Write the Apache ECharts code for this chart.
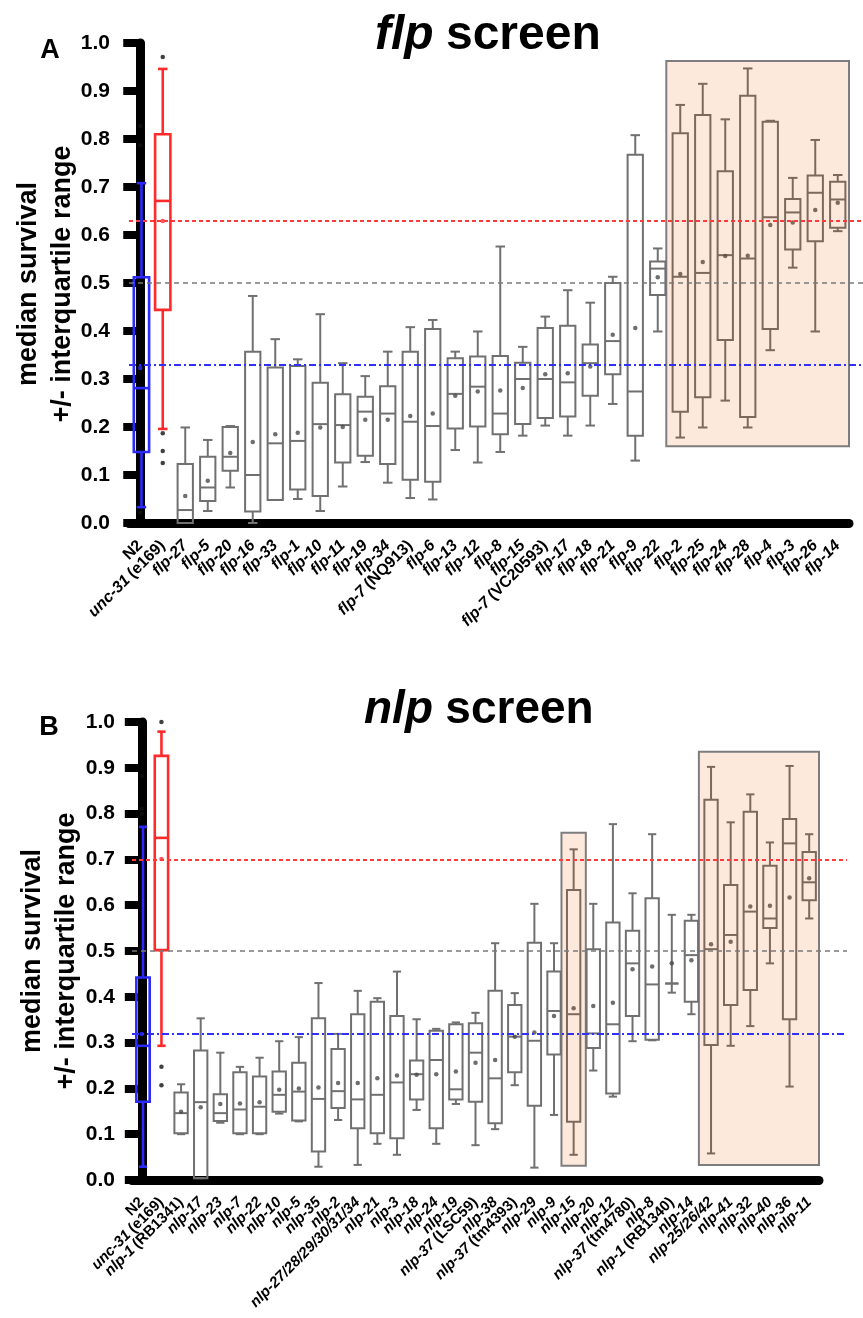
<!DOCTYPE html>
<html><head><meta charset="utf-8">
<script src="https://cdn.jsdelivr.net/npm/echarts@6/dist/echarts.min.js"></script>
<style>html,body{margin:0;padding:0;background:#fff}#c{width:863px;height:1318px}</style>
</head><body><div id="c"></div>
<script>
// ---------------- Panel A: flp screen ----------------
const flpCategories = ['N2','unc-31 (e169)','flp-27','flp-5','flp-20','flp-16','flp-33','flp-1','flp-10','flp-11','flp-19','flp-34','flp-7 (NQ913)','flp-6','flp-13','flp-12','flp-8','flp-15','flp-7 (VC20593)','flp-17','flp-18','flp-21','flp-9','flp-22','flp-2','flp-25','flp-24','flp-28','flp-4','flp-3','flp-26','flp-14'];
const flpMin    = [0.033,0.196,0.000,0.025,0.074,0.000,0.048,0.050,0.025,0.076,0.127,0.084,0.052,0.049,0.152,0.126,0.148,0.182,0.203,0.182,0.203,0.248,0.130,0.399,0.178,0.199,0.255,0.199,0.360,0.532,0.399,0.608];
const flpQ1     = [0.148,0.444,0.000,0.046,0.109,0.024,0.048,0.070,0.056,0.126,0.140,0.123,0.090,0.086,0.197,0.201,0.185,0.206,0.219,0.222,0.265,0.310,0.182,0.475,0.232,0.262,0.381,0.221,0.404,0.570,0.587,0.615];
const flpMedian = [0.281,0.671,0.027,0.074,0.138,0.100,0.166,0.171,0.206,0.204,0.232,0.228,0.211,0.202,0.269,0.284,0.228,0.300,0.300,0.293,0.333,0.379,0.274,0.530,0.513,0.521,0.558,0.551,0.637,0.647,0.688,0.674];
const flpQ3     = [0.512,0.810,0.123,0.138,0.200,0.357,0.324,0.327,0.292,0.268,0.263,0.285,0.357,0.404,0.343,0.347,0.348,0.334,0.406,0.411,0.372,0.500,0.767,0.545,0.812,0.850,0.733,0.890,0.836,0.675,0.724,0.711];
const flpMax    = [0.708,0.946,0.199,0.173,0.202,0.473,0.383,0.341,0.435,0.333,0.306,0.357,0.408,0.423,0.357,0.399,0.576,0.367,0.430,0.485,0.459,0.513,0.808,0.572,0.871,0.915,0.841,0.947,0.838,0.719,0.798,0.725];
const flpMean   = [0.323,0.629,0.056,0.088,0.146,0.169,0.185,0.188,0.199,0.200,0.215,0.215,0.223,0.228,0.265,0.274,0.276,0.281,0.310,0.312,0.326,0.392,0.406,0.512,0.519,0.544,0.556,0.557,0.621,0.626,0.652,0.667];
const flpOutlierCats   = ['N2','N2','N2','unc-31 (e169)','unc-31 (e169)','unc-31 (e169)','unc-31 (e169)'];
const flpOutlierValues = [0.827,0.787,0.022,0.971,0.187,0.150,0.125];
const flpRefLines = [0.631, 0.500, 0.326];   // red (unc-31), grey (50%), blue (N2)
const flpHighlightFrom = ['flp-2'];
const flpHighlightTo   = ['flp-14'];
const flpHighlightLow  = [0.16];
const flpHighlightHigh = [0.9625];

// ---------------- Panel B: nlp screen ----------------
const nlpCategories = ['N2','unc-31 (e169)','nlp-1 (RB1341)','nlp-17','nlp-23','nlp-7','nlp-22','nlp-10','nlp-5','nlp-35','nlp-2','nlp-27/28/29/30/31/34','nlp-21','nlp-3','nlp-18','nlp-24','nlp-19','nlp-37 (LSC59)','nlp-38','nlp-37 (tm4393)','nlp-29','nlp-9','nlp-15','nlp-20','nlp-12','nlp-37 (tm4780)','nlp-8','nlp-1 (RB1340)','nlp-14','nlp-25/26/42','nlp-41','nlp-32','nlp-40','nlp-36','nlp-11'];
const nlpMin    = [0.029,0.293,0.100,0.004,0.125,0.100,0.100,0.145,0.128,0.029,0.131,0.033,0.079,0.055,0.153,0.079,0.166,0.076,0.111,0.207,0.027,0.142,0.055,0.239,0.182,0.303,0.305,0.409,0.362,0.058,0.293,0.336,0.473,0.204,0.571];
const nlpQ1     = [0.171,0.502,0.102,0.004,0.129,0.102,0.102,0.149,0.130,0.062,0.157,0.113,0.102,0.091,0.176,0.113,0.176,0.171,0.124,0.235,0.162,0.274,0.127,0.288,0.189,0.358,0.306,0.429,0.389,0.295,0.382,0.415,0.550,0.351,0.611];
const nlpMedian = [0.293,0.747,0.146,0.170,0.146,0.154,0.160,0.186,0.193,0.177,0.194,0.176,0.186,0.213,0.231,0.262,0.198,0.278,0.222,0.313,0.304,0.369,0.362,0.320,0.340,0.473,0.427,0.429,0.491,0.504,0.535,0.586,0.571,0.735,0.650];
const nlpQ3     = [0.442,0.926,0.191,0.283,0.187,0.235,0.226,0.237,0.256,0.353,0.286,0.362,0.389,0.358,0.261,0.326,0.340,0.342,0.413,0.382,0.518,0.455,0.633,0.504,0.562,0.544,0.615,0.429,0.566,0.830,0.644,0.804,0.686,0.788,0.716];
const nlpMax    = [0.771,0.979,0.209,0.353,0.278,0.247,0.267,0.303,0.312,0.430,0.319,0.413,0.397,0.455,0.351,0.330,0.344,0.365,0.517,0.408,0.603,0.517,0.722,0.603,0.777,0.626,0.755,0.579,0.579,0.902,0.781,0.842,0.737,0.904,0.755];
const nlpMean   = [0.319,0.701,0.149,0.159,0.166,0.167,0.170,0.197,0.200,0.202,0.212,0.212,0.222,0.228,0.230,0.231,0.237,0.256,0.262,0.313,0.322,0.358,0.375,0.380,0.387,0.460,0.466,0.473,0.480,0.515,0.520,0.597,0.599,0.617,0.659];
const nlpOutlierCats   = ['N2','N2','N2','unc-31 (e169)','unc-31 (e169)','unc-31 (e169)'];
const nlpOutlierValues = [0.882,0.810,0.799,1.000,0.247,0.207];
const nlpRefLines = [0.700, 0.497, 0.320];
const nlpHighlightFrom = ['nlp-15','nlp-25/26/42'];
const nlpHighlightTo   = ['nlp-15','nlp-11'];
const nlpHighlightLow  = [0.031, 0.033];
const nlpHighlightHigh = [0.758, 0.935];

// ---------------- styling ----------------
const FONT = 'Liberation Sans, Arial, sans-serif';
const BLUE = '#2a2aff', RED = '#ff2a2a', GREY = '#707070', BROWN = '#7e685b';
const REF_STYLES = [
  {color: '#ff3a3a', type: [4, 3], width: 2},
  {color: '#7a7a7a', type: [5, 4], width: 1.6},
  {color: '#3030ff', type: [7, 3, 2, 3], width: 2}
];

function highlightIndex(cats, from, to) {
  const set = new Set();
  from.forEach((f, k) => {
    const a = cats.indexOf(f), b = cats.indexOf(to[k]);
    for (let i = a; i <= b; i++) set.add(i);
  });
  return set;
}
function colorOf(i, hl) { return i === 0 ? BLUE : i === 1 ? RED : (hl.has(i) ? BROWN : GREY); }

function boxRenderer(hl) {
  return function (params, api) {
    const i = api.value(0);
    const x = api.coord([i, 0])[0] + (i === 0 ? 1.2 : 0);
    const band = api.size([1, 0])[0];
    const bw = band * 0.68, cw = band * 0.42;
    const y = k => api.coord([i, api.value(k)])[1];
    const yMin = y(1), yQ1 = y(2), yMd = y(3), yQ3 = y(4), yMax = y(5);
    const c = colorOf(i, hl);
    const lw = i < 2 ? 2.6 : 2;
    const st = {stroke: c, lineWidth: lw, fill: 'none'};
    const L = (x1, y1, x2, y2) => ({type: 'line', shape: {x1, y1, x2, y2}, style: st});
    return {type: 'group', children: [
      L(x, yQ3, x, yMax), L(x - cw / 2, yMax, x + cw / 2, yMax),
      L(x, yQ1, x, yMin), L(x - cw / 2, yMin, x + cw / 2, yMin),
      {type: 'rect', shape: {x: x - bw / 2, y: yQ3, width: bw, height: yQ1 - yQ3}, style: st},
      L(x - bw / 2, yMd, x + bw / 2, yMd)
    ]};
  };
}

function labelFmt(name) {
  if (name === 'N2') return '{n|N2}';
  const p = name.indexOf(' (');
  if (p > 0) return '{i|' + name.slice(0, p) + '} {n|' + name.slice(p + 1) + '}';
  return '{i|' + name + '}';
}

const option = {
  animation: false,
  backgroundColor: '#fff',
  grid: [
    {left: 129, top: 43, width: 720, height: 480},
    {left: 132, top: 722, width: 687, height: 458},
    {left: 129, top: 43, right: 0, height: 480},
    {left: 132, top: 722, right: 16, height: 458}
  ],
  xAxis: [],
  yAxis: [],
  series: [],
  graphic: []
};

function addPanel(p) {
  const g = p.grid;
  const hl = highlightIndex(p.cats, p.hlFrom, p.hlTo);
  const xCat = option.xAxis.length;
  option.xAxis.push({
    type: 'category', gridIndex: g, data: p.cats, boundaryGap: true,
    axisLine: {lineStyle: {color: '#000', width: 9}},
    axisTick: {alignWithLabel: true, length: 15, lineStyle: {color: '#000', width: 9}},
    axisLabel: {interval: 0, rotate: 45, margin: p.labelMargin, color: '#000', formatter: labelFmt,
      rich: {
        i: {fontFamily: FONT, fontStyle: 'italic', fontWeight: 'bold', fontSize: p.labelSize, color: '#000'},
        n: {fontFamily: FONT, fontWeight: 'bold', fontSize: p.labelSize, color: '#000'}
      }},
    splitLine: {show: false}
  });
  const xVal = option.xAxis.length;
  option.xAxis.push({type: 'value', gridIndex: g, min: -0.5, max: p.cats.length - 0.5, show: false});
  const yIdx = option.yAxis.length;
  option.yAxis.push({
    type: 'value', gridIndex: g, min: 0, max: 1, interval: 0.1,
    axisLine: {show: true, lineStyle: {color: '#000', width: 9}},
    axisTick: {show: true, length: 17, lineStyle: {color: '#000', width: 8}},
    axisLabel: {margin: p.yMargin, fontFamily: FONT, fontWeight: 'bold', fontSize: 21, color: '#000',
      formatter: v => v.toFixed(1)},
    splitLine: {show: false}
  });
  // highlight boxes
  option.series.push({
    type: 'scatter', xAxisIndex: xVal, yAxisIndex: yIdx, data: [], silent: true, z: 1,
    markArea: {silent: true,
      itemStyle: {color: '#fde9dc', borderColor: '#7d7d7d', borderWidth: 2},
      data: p.hlFrom.map((f, k) => [
        {xAxis: p.cats.indexOf(f) - 0.62, yAxis: p.hlLow[k]},
        {xAxis: p.cats.indexOf(p.hlTo[k]) + 0.62, yAxis: p.hlHigh[k]}
      ])}
  });
  // boxes
  option.series.push({
    type: 'custom', xAxisIndex: xCat, yAxisIndex: yIdx, z: 3,
    renderItem: boxRenderer(hl),
    encode: {x: 0, y: [1, 2, 3, 4, 5]},
    data: p.cats.map((c, i) => [i, p.min[i], p.q1[i], p.med[i], p.q3[i], p.max[i]])
  });
  // means
  option.series.push({
    type: 'scatter', xAxisIndex: xCat, yAxisIndex: yIdx, z: 4, symbol: 'circle', symbolSize: 4.5,
    data: p.mean.map((m, i) => ({value: [i, m], itemStyle: {color: i === 0 ? BLUE : i === 1 ? RED : (hl.has(i) ? '#5e4a3e' : '#4a4a4a')}}))
  });
  // outliers
  option.series.push({
    type: 'scatter', xAxisIndex: xCat, yAxisIndex: yIdx, z: 4, symbol: 'circle', symbolSize: 4.5,
    itemStyle: {color: '#111'},
    data: p.outCats.map((c, k) => [p.cats.indexOf(c), p.outVals[k]])
  });
  // reference lines on a wide overlay grid
  const lg = g + 2;
  const xl = option.xAxis.length;
  option.xAxis.push({type: 'value', gridIndex: lg, min: 0, max: 1, show: false});
  const yl = option.yAxis.length;
  option.yAxis.push({type: 'value', gridIndex: lg, min: 0, max: 1, show: false});
  option.series.push({
    type: 'scatter', xAxisIndex: xl, yAxisIndex: yl, data: [], silent: true, z: 5,
    markLine: {silent: true, symbol: 'none', label: {show: false},
      data: p.refs.map((v, k) => ({yAxis: v, lineStyle: REF_STYLES[k]}))}
  });
  // titles
  option.graphic.push({
    type: 'text', left: p.titleX, top: p.titleY, z: 10,
    style: {text: '{i|' + p.titleItalic + '} {b|screen}', fill: '#000',
      rich: {i: {fontFamily: FONT, fontStyle: 'italic', fontWeight: 'bold', fontSize: p.titleSize, fill: '#000', padding: [0, 9, 0, 0]},
             b: {fontFamily: FONT, fontWeight: 'bold', fontSize: p.titleSize, fill: '#000'}}}
  });
  option.graphic.push({
    type: 'text', x: p.letterX, y: p.letterY, z: 10,
    style: {text: p.letter, fontFamily: FONT, fontWeight: 'bold', fontSize: 27, fill: '#000', align: 'center', verticalAlign: 'middle'}
  });
  option.graphic.push({
    type: 'text', x: p.yTitleX, y: p.yTitleY, rotation: Math.PI / 2, z: 10,
    style: {text: 'median survival\n+/- interquartile range', fontFamily: FONT, fontWeight: 'bold', fontSize: 27,
      lineHeight: 34, fill: '#000', align: 'center', verticalAlign: 'middle'}
  });
}

addPanel({grid: 0, cats: flpCategories, min: flpMin, q1: flpQ1, med: flpMedian, q3: flpQ3, max: flpMax, mean: flpMean,
  outCats: flpOutlierCats, outVals: flpOutlierValues, refs: flpRefLines,
  hlFrom: flpHighlightFrom, hlTo: flpHighlightTo, hlLow: flpHighlightLow, hlHigh: flpHighlightHigh,
  labelSize: 16, labelMargin: 20, yMargin: 19,
  titleItalic: 'flp', titleSize: 48, titleX: 375, titleY: 12, letter: 'A', letterX: 50, letterY: 51, yTitleX: 46, yTitleY: 284});
addPanel({grid: 1, cats: nlpCategories, min: nlpMin, q1: nlpQ1, med: nlpMedian, q3: nlpQ3, max: nlpMax, mean: nlpMean,
  outCats: nlpOutlierCats, outVals: nlpOutlierValues, refs: nlpRefLines,
  hlFrom: nlpHighlightFrom, hlTo: nlpHighlightTo, hlLow: nlpHighlightLow, hlHigh: nlpHighlightHigh,
  labelSize: 15, labelMargin: 20, yMargin: 17,
  titleItalic: 'nlp', titleSize: 46, titleX: 364, titleY: 687, letter: 'B', letterX: 49, letterY: 728, yTitleX: 50, yTitleY: 951});

const chart = echarts.init(document.getElementById('c'), null, {renderer: 'canvas'});
chart.setOption(option);
</script>
</body></html>
